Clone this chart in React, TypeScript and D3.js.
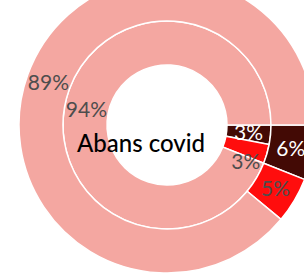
import React from "react";
import * as d3 from "d3";

const segments = ["Segment A", "Segment B", "Segment C"];
const innerValues = [3, 3, 94];
const outerValues = [6, 5, 89];
const colors = ["#430a05", "#ff0d0d", "#f4a7a1"];
const labelColors = ["#ffffff", "#4d4d4d", "#4d4d4d"];
const title = "Abans covid";

const width = 304;
const height = 274;
const cx = 167;
const cy = 125;

const App = () => {
  const pie = d3
    .pie<number>()
    .sort(null)
    .value((d) => d)
    .startAngle(Math.PI / 2)
    .endAngle(Math.PI / 2 + 2 * Math.PI);

  const rings = [
    { values: innerValues, inner: 60, outer: 104 },
    { values: outerValues, inner: 104, outer: 148 },
  ];

  return (
    <svg
      width={width}
      height={height}
      style={{ position: "absolute", left: 0, top: 0, fontFamily: "Lato, sans-serif" }}
    >
      <g transform={`translate(${cx},${cy})`}>
        {rings.map((ring, ri) => {
          const arc = d3.arc<d3.PieArcDatum<number>>().innerRadius(ring.inner).outerRadius(ring.outer);
          return (
            <g key={ri}>
              {pie(ring.values).map((d, i) => (
                <path
                  key={segments[i]}
                  d={arc(d) || ""}
                  fill={colors[i]}
                  stroke="#fff"
                  strokeWidth={1.5}
                />
              ))}
            </g>
          );
        })}
        {rings.map((ring, ri) => {
          const arc = d3.arc<d3.PieArcDatum<number>>().innerRadius(ring.inner).outerRadius(ring.outer);
          return pie(ring.values).map((d, i) => {
            const [x, y] = arc.centroid(d);
            // nudge the inner small label so it does not collide with its neighbour
            const nudge = ri === 0 && i === 1 ? 14 : 0;
            return (
              <text
                key={`${ri}-${i}`}
                x={x}
                y={y + nudge}
                dy="0.35em"
                textAnchor="middle"
                fill={labelColors[i]}
                fontSize={21}
                fontWeight={400}
              >
                {ring.values[i]}%
              </text>
            );
          });
        })}
        <text x={-26} y={27} textAnchor="middle" fill="#000" fontSize={24} fontWeight={500}>
          {title}
        </text>
      </g>
    </svg>
  );
};

export default App;
